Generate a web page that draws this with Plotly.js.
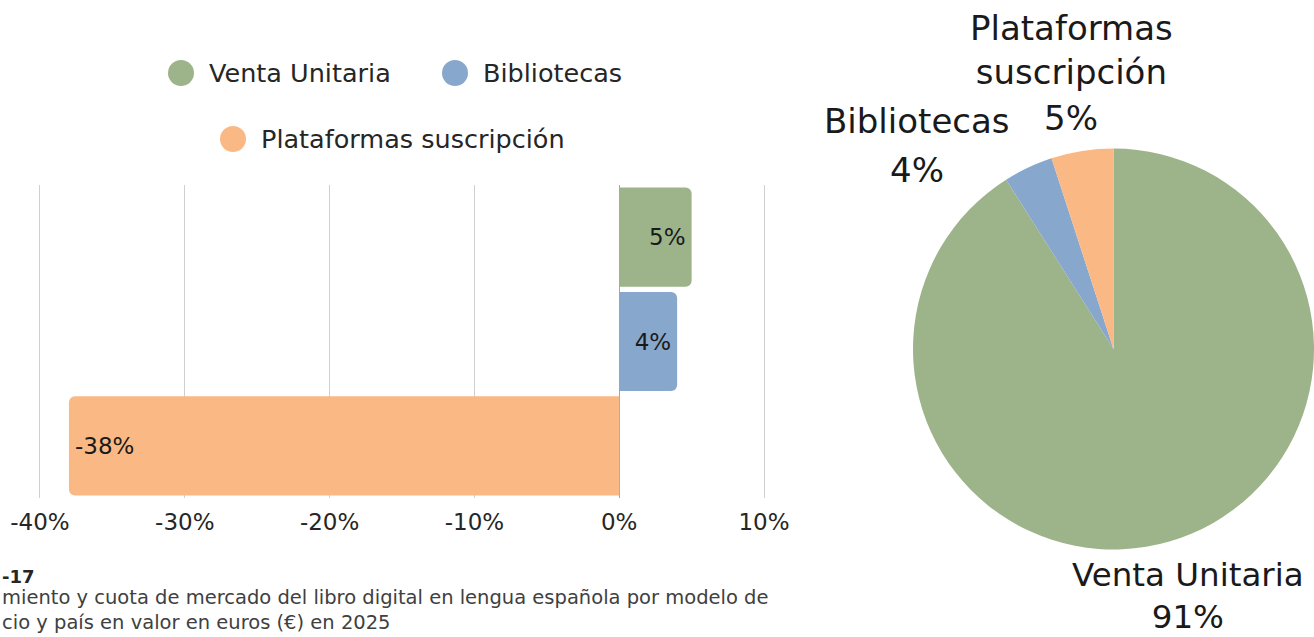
<!DOCTYPE html>
<html>
<head>
<meta charset="utf-8">
<script src="https://cdn.plot.ly/plotly-3.0.1.min.js"></script>
<style>html,body{margin:0;padding:0;background:#fff;}#chart{width:1314px;height:637px;}</style>
</head>
<body>
<div id="chart"></div>
<script>
// ---- data ----
const categories = ["Venta Unitaria", "Bibliotecas", "Plataformas suscripción"];
const growth = [5, 4, -38];          // crecimiento (%)
const share = [91, 4, 5];            // cuota de mercado (%)
const xTickVals = [-40, -30, -20, -10, 0, 10];
const xTickText = ["-40%", "-30%", "-20%", "-10%", "0%", "10%"];
const captionNum = "-17";
const captionLines = [
  "miento y cuota de mercado del libro digital en lengua española por modelo de",
  "cio y país en valor en euros (€) en 2025"
];

// ---- style ----
const colors = ["#9db48a", "#88a7cc", "#fab984"];
const FONT = "DejaVu Sans, Noto Sans, sans-serif";
const W = 1314, H = 637;
const px = v => v / W, py = v => 1 - v / H;

const bar = {
  type: "bar", orientation: "h",
  y: categories, x: growth,
  marker: { color: colors, cornerradius: 6, line: { width: 0 } },
  text: growth.map(v => v + "%"),
  textposition: "inside", insidetextanchor: "end",
  textfont: { family: FONT, size: 23, color: "#1a1a1a" },
  constraintext: "none",
  xaxis: "x", yaxis: "y", showlegend: false, hoverinfo: "skip"
};

const pie = {
  type: "pie", labels: categories, values: share,
  sort: false, direction: "clockwise", rotation: 0,
  marker: { colors: colors, line: { width: 0 } },
  textinfo: "none", showlegend: false, hoverinfo: "skip",
  domain: { x: [px(913), 1], y: [py(551), py(147)] }
};

const annotations = [];
const shapes = [];
const lbl = (text, x, y, size, opts) => Object.assign({
  text: text, xref: "paper", yref: "paper", x: px(x), y: py(y),
  xanchor: "center", yanchor: "middle", showarrow: false,
  font: { family: FONT, size: size, color: "#1a1a1a" }
}, opts || {});

// legend (circles + labels)
const legendPos = [[181, 73], [455, 73], [233, 139]];
categories.forEach((c, i) => {
  const [cx, cy] = legendPos[i];
  shapes.push({ type: "circle", xref: "paper", yref: "paper",
    x0: px(cx - 13), x1: px(cx + 13), y0: py(cy + 13), y1: py(cy - 13),
    fillcolor: colors[i], line: { width: 0 } });
  annotations.push(lbl(c, cx + 26, cy, 25.5, { xanchor: "left", font: { family: FONT, size: 25.5, color: "#262626" } }));
});

// pie labels
const PS = 34;
annotations.push(lbl("Plataformas<br>suscripción", 1071, 50, PS));
annotations.push(lbl(share[2] + "%", 1071, 118, PS));
annotations.push(lbl(categories[1], 917, 121, PS));
annotations.push(lbl(share[1] + "%", 917, 170, PS));
annotations.push(lbl(categories[0] + "<br>" + share[0] + "%", 1188, 596, 32.5));

// caption
annotations.push(lbl("<b>" + captionNum + "</b>", 0, 576, 18, { xanchor: "left", font: { family: FONT, size: 18, color: "#262626" } }));
annotations.push(lbl(captionLines.join("<br>"), 0, 610, 19.5, { xanchor: "left", align: "left", font: { family: FONT, size: 19.5, color: "#404040" } }));

const layout = {
  width: W, height: H,
  margin: { l: 0, r: 0, t: 0, b: 0 },
  paper_bgcolor: "#fff", plot_bgcolor: "#fff",
  bargap: 0.05,
  xaxis: {
    domain: [px(25.5), px(778.5)], range: [-41, 11],
    tickvals: xTickVals, ticktext: xTickText,
    tickfont: { family: FONT, size: 23, color: "#262626" },
    showgrid: true, gridcolor: "#d0d0d0", gridwidth: 1,
    zeroline: true, zerolinecolor: "#a6a6a6", zerolinewidth: 1,
    showline: false, ticks: "outside", ticklen: 3, tickcolor: "rgba(0,0,0,0)", fixedrange: true
  },
  yaxis: {
    domain: [py(498), py(185)], autorange: "reversed",
    showticklabels: false, showgrid: false, zeroline: false, showline: false,
    ticks: "", fixedrange: true
  },
  annotations: annotations,
  shapes: shapes,
  showlegend: false
};

Plotly.newPlot("chart", [bar, pie], layout, { displayModeBar: false, staticPlot: true });
</script>
</body>
</html>
